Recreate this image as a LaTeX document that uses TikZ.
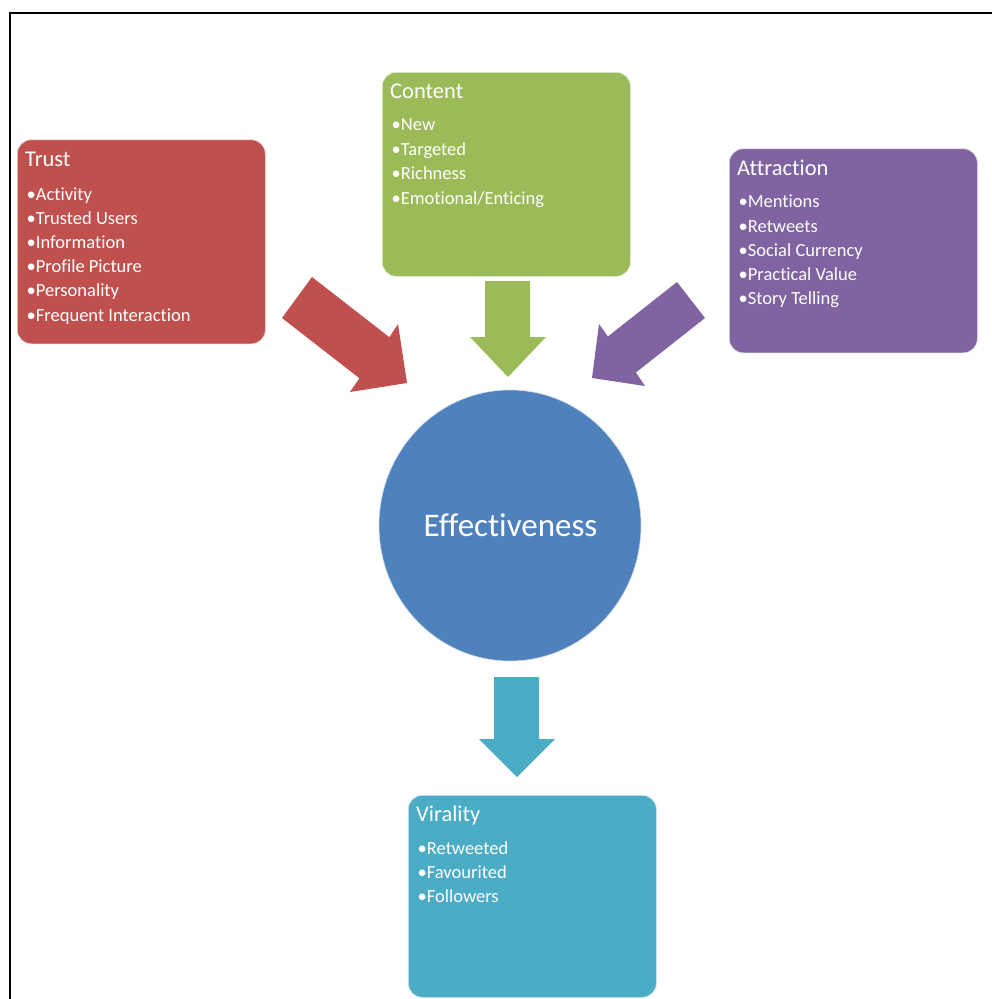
\documentclass[tikz,border=0pt]{standalone}
\usepackage{fontspec}
\setmainfont{Carlito}[RawFeature={-liga;-calt;-clig;-dlig}]
\usetikzlibrary{shapes.geometric,calc}
\definecolor{trustred}{HTML}{C0504D}
\definecolor{contentgreen}{HTML}{9BBB59}
\definecolor{attrpurple}{HTML}{8064A2}
\definecolor{effblue}{HTML}{4F81BD}
\definecolor{viralcyan}{HTML}{4BACC6}
\tikzset{
  box/.style={rectangle, rounded corners=14pt, minimum width=248pt, minimum height=204pt, anchor=north west, inner sep=0pt, draw=white!70!#1, line width=0.6pt, fill=#1},
  boxtitle/.style={anchor=base west, inner sep=0pt, text=white, font=\fontsize{22.5}{27}\selectfont},
  boxitem/.style={anchor=base west, inner sep=0pt, text=white, font=\fontsize{18.5}{22}\selectfont},
  frameline/.style={line width=2pt, black}
}
\begin{document}
\begin{tikzpicture}[x=1pt,y=-1pt]
\useasboundingbox (0,0) rectangle (992,999);
\fill[white] (0,0) rectangle (992,999);
% frame
\coordinate (fbl) at (10.3,999);
\coordinate (ftl) at (10.3,12.8);
\coordinate (ftr) at (992,12.8);
\draw[frameline] (fbl) -- (ftl) -- (ftr);

% boxes
\node[box=trustred] (trust) at (17,139.5) {};
\node[box=contentgreen] (content) at (382,72) {};
\node[box=attrpurple] (attr) at (729,148.5) {};
\node[box=viralcyan, minimum height=202pt] (viral) at (408,795) {};

% titles
\node[boxtitle] (trustT) at ([xshift=8pt,yshift=-27.3pt]trust.north west) {Trust};
\node[boxtitle] (contentT) at ([xshift=8pt,yshift=-26.5pt]content.north west) {Content};
\node[boxtitle] (attrT) at ([xshift=8pt,yshift=-26.8pt]attr.north west) {Attraction};
\node[boxtitle] (viralT) at ([xshift=8pt,yshift=-26.7pt]viral.north west) {Virality};

% items
\foreach \t [count=\k from 0] in {Activity,Trusted Users,Information,Profile Picture,Personality,Frequent Interaction}
  \node[boxitem] (trustI\k) at ([xshift=9.5pt,yshift={-(60.5+\k*24.2)*1pt}]trust.north west) {•\t};
\foreach \t [count=\k from 0] in {New,Targeted,Richness,Emotional/Enticing}
  \node[boxitem] (contentI\k) at ([xshift=9.5pt,yshift={-(58.8+\k*24.4)*1pt}]content.north west) {•\t};
\foreach \t [count=\k from 0] in {Mentions,Retweets,Social Currency,Practical Value,Story Telling}
  \node[boxitem] (attrI\k) at ([xshift=9.5pt,yshift={-(59.2+\k*24.3)*1pt}]attr.north west) {•\t};
\foreach \t [count=\k from 0] in {Retweeted,Favourited,Followers}
  \node[boxitem] (viralI\k) at ([xshift=9.5pt,yshift={-(59.3+\k*24.3)*1pt}]viral.north west) {•\t};

% central ellipse
\node[ellipse, fill=effblue, draw=white!70!effblue, line width=0.6pt, minimum width=262pt, minimum height=271pt, inner sep=0pt] (eff) at (510,525.5) {};
\node[anchor=base, inner sep=0pt, text=white, font=\fontsize{33}{40}\selectfont] (effT) at (510.5,536) {Effectiveness};

% block arrows
\fill[trustred] (312,277) -- (389.4,337.2) -- (398,324) -- (407,383) -- (350,392) -- (359.4,378.2) -- (282,318) -- cycle;
\fill[contentgreen] (485,281) -- (530,281) -- (530,337) -- (546,337) -- (508,377) -- (470,337) -- (485,337) -- cycle;
\fill[attrpurple] (677,282) -- (607.9,336.5) -- (599,324) -- (592,378) -- (645,386) -- (635.9,372.5) -- (705,318) -- cycle;
\fill[viralcyan] (494,677) -- (539,677) -- (539,739) -- (555,739) -- (517,777) -- (479,739) -- (494,739) -- cycle;
\end{tikzpicture}
\end{document}
